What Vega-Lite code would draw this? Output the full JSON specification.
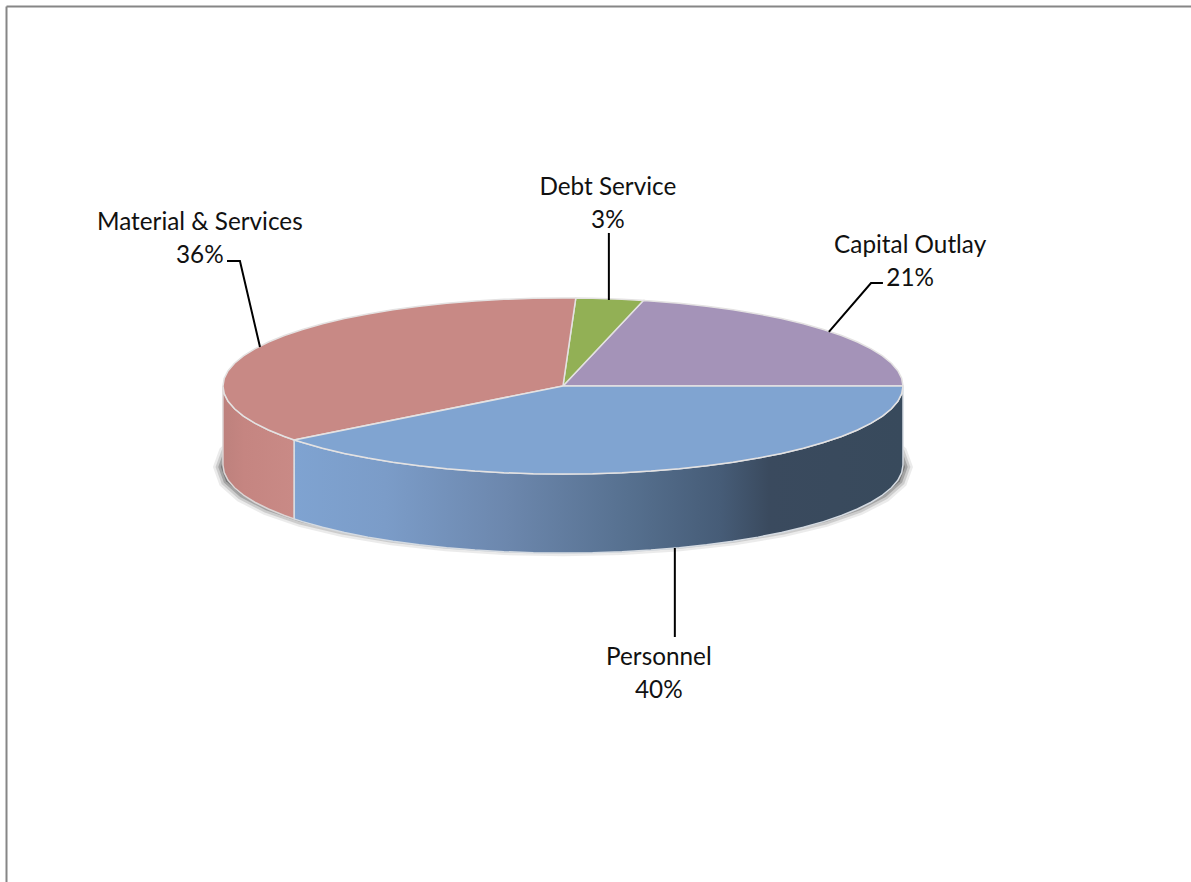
{"$schema":"https://vega.github.io/schema/vega-lite/v6.json","width":1185,"height":876,"autosize":{"type":"none"},"padding":{"left":6,"top":6,"right":0,"bottom":0},"background":"#ffffff","config":{"view":{"stroke":null}},
"datasets":{
"shares":[{"slice":"Material & Services","share":0.361,"x":-1.068,"y":1.795},{"slice":"Debt Service","share":0.032,"x":0.132,"y":2.193},{"slice":"Capital Outlay","share":0.212,"x":1.021,"y":1.534},{"slice":"Personnel","share":0.395,"x":0.282,"y":-3.148}],
"leaders":[{"slice":"Material & Services","x":-0.988,"y":1.42},{"slice":"Material & Services","x":-0.95,"y":1.42},{"slice":"Material & Services","x":-0.891,"y":0.443},{"slice":"Debt Service","x":0.135,"y":1.739},{"slice":"Debt Service","x":0.135,"y":0.977},{"slice":"Capital Outlay","x":0.941,"y":1.17},{"slice":"Capital Outlay","x":0.906,"y":1.17},{"slice":"Capital Outlay","x":0.782,"y":0.614},{"slice":"Personnel","x":0.329,"y":-1.841},{"slice":"Personnel","x":0.329,"y":-2.852}],
"shadow":[{"x":1.006,"y":-0.92},{"x":0.991,"y":-0.759},{"x":0.945,"y":-0.602},{"x":0.871,"y":-0.455},{"x":0.771,"y":-0.322},{"x":0.647,"y":-0.208},{"x":0.503,"y":-0.115},{"x":0.344,"y":-0.046},{"x":0.175,"y":-0.004},{"x":0,"y":0.01},{"x":-0.175,"y":-0.004},{"x":-0.344,"y":-0.046},{"x":-0.503,"y":-0.115},{"x":-0.647,"y":-0.208},{"x":-0.771,"y":-0.322},{"x":-0.871,"y":-0.455},{"x":-0.945,"y":-0.602},{"x":-0.991,"y":-0.759},{"x":-1.006,"y":-0.92},{"x":-0.991,"y":-1.081},{"x":-0.945,"y":-1.238},{"x":-0.871,"y":-1.385},{"x":-0.771,"y":-1.518},{"x":-0.647,"y":-1.632},{"x":-0.503,"y":-1.725},{"x":-0.344,"y":-1.794},{"x":-0.175,"y":-1.836},{"x":0,"y":-1.85},{"x":0.175,"y":-1.836},{"x":0.344,"y":-1.794},{"x":0.503,"y":-1.725},{"x":0.647,"y":-1.632},{"x":0.771,"y":-1.518},{"x":0.871,"y":-1.385},{"x":0.945,"y":-1.238},{"x":0.991,"y":-1.081}],
"materialWall":[{"x":-1,"y":0},{"x":-0.9962,"y":-0.0872},{"x":-0.9848,"y":-0.1736},{"x":-0.9659,"y":-0.2588},{"x":-0.9397,"y":-0.342},{"x":-0.9063,"y":-0.4226},{"x":-0.866,"y":-0.5},{"x":-0.8192,"y":-0.5736},{"x":-0.7902,"y":-0.6129},{"x":-0.7902,"y":-1.5109},{"x":-0.8192,"y":-1.4716},{"x":-0.866,"y":-1.398},{"x":-0.9063,"y":-1.3206},{"x":-0.9397,"y":-1.24},{"x":-0.9659,"y":-1.1568},{"x":-0.9848,"y":-1.0716},{"x":-0.9962,"y":-0.9852},{"x":-1,"y":-0.898}],
"personnelWall":[{"x":-0.7902,"y":-0.6129},{"x":-0.766,"y":-0.6428},{"x":-0.7071,"y":-0.7071},{"x":-0.6428,"y":-0.766},{"x":-0.5736,"y":-0.8192},{"x":-0.5,"y":-0.866},{"x":-0.4226,"y":-0.9063},{"x":-0.342,"y":-0.9397},{"x":-0.2588,"y":-0.9659},{"x":-0.1736,"y":-0.9848},{"x":-0.0872,"y":-0.9962},{"x":0,"y":-1},{"x":0.0872,"y":-0.9962},{"x":0.1736,"y":-0.9848},{"x":0.2588,"y":-0.9659},{"x":0.342,"y":-0.9397},{"x":0.4226,"y":-0.9063},{"x":0.5,"y":-0.866},{"x":0.5736,"y":-0.8192},{"x":0.6428,"y":-0.766},{"x":0.7071,"y":-0.7071},{"x":0.766,"y":-0.6428},{"x":0.8192,"y":-0.5736},{"x":0.866,"y":-0.5},{"x":0.9063,"y":-0.4226},{"x":0.9397,"y":-0.342},{"x":0.9659,"y":-0.2588},{"x":0.9848,"y":-0.1736},{"x":0.9962,"y":-0.0872},{"x":1,"y":0},{"x":1,"y":-0.898},{"x":0.9962,"y":-0.9852},{"x":0.9848,"y":-1.0716},{"x":0.9659,"y":-1.1568},{"x":0.9397,"y":-1.24},{"x":0.9063,"y":-1.3206},{"x":0.866,"y":-1.398},{"x":0.8192,"y":-1.4716},{"x":0.766,"y":-1.5408},{"x":0.7071,"y":-1.6051},{"x":0.6428,"y":-1.664},{"x":0.5736,"y":-1.7172},{"x":0.5,"y":-1.764},{"x":0.4226,"y":-1.8043},{"x":0.342,"y":-1.8377},{"x":0.2588,"y":-1.8639},{"x":0.1736,"y":-1.8828},{"x":0.0872,"y":-1.8942},{"x":0,"y":-1.898},{"x":-0.0872,"y":-1.8942},{"x":-0.1736,"y":-1.8828},{"x":-0.2588,"y":-1.8639},{"x":-0.342,"y":-1.8377},{"x":-0.4226,"y":-1.8043},{"x":-0.5,"y":-1.764},{"x":-0.5736,"y":-1.7172},{"x":-0.6428,"y":-1.664},{"x":-0.7071,"y":-1.6051},{"x":-0.766,"y":-1.5408},{"x":-0.7902,"y":-1.5109}],
"faces":[
{"slice":"Capital Outlay","x":0,"y":0},{"slice":"Capital Outlay","x":1,"y":0},{"slice":"Capital Outlay","x":0.9962,"y":0.0872},{"slice":"Capital Outlay","x":0.9848,"y":0.1736},{"slice":"Capital Outlay","x":0.9659,"y":0.2588},{"slice":"Capital Outlay","x":0.9397,"y":0.342},{"slice":"Capital Outlay","x":0.9063,"y":0.4226},{"slice":"Capital Outlay","x":0.866,"y":0.5},{"slice":"Capital Outlay","x":0.8192,"y":0.5736},{"slice":"Capital Outlay","x":0.766,"y":0.6428},{"slice":"Capital Outlay","x":0.7071,"y":0.7071},{"slice":"Capital Outlay","x":0.6428,"y":0.766},{"slice":"Capital Outlay","x":0.5736,"y":0.8192},{"slice":"Capital Outlay","x":0.5,"y":0.866},{"slice":"Capital Outlay","x":0.4226,"y":0.9063},{"slice":"Capital Outlay","x":0.342,"y":0.9397},{"slice":"Capital Outlay","x":0.2588,"y":0.9659},{"slice":"Capital Outlay","x":0.2365,"y":0.9717},
{"slice":"Debt Service","x":0,"y":0},{"slice":"Debt Service","x":0.2365,"y":0.9717},{"slice":"Debt Service","x":0.1736,"y":0.9848},{"slice":"Debt Service","x":0.0872,"y":0.9962},{"slice":"Debt Service","x":0.0377,"y":0.9993},
{"slice":"Material & Services","x":0,"y":0},{"slice":"Material & Services","x":0.0377,"y":0.9993},{"slice":"Material & Services","x":0,"y":1},{"slice":"Material & Services","x":-0.0872,"y":0.9962},{"slice":"Material & Services","x":-0.1736,"y":0.9848},{"slice":"Material & Services","x":-0.2588,"y":0.9659},{"slice":"Material & Services","x":-0.342,"y":0.9397},{"slice":"Material & Services","x":-0.4226,"y":0.9063},{"slice":"Material & Services","x":-0.5,"y":0.866},{"slice":"Material & Services","x":-0.5736,"y":0.8192},{"slice":"Material & Services","x":-0.6428,"y":0.766},{"slice":"Material & Services","x":-0.7071,"y":0.7071},{"slice":"Material & Services","x":-0.766,"y":0.6428},{"slice":"Material & Services","x":-0.8192,"y":0.5736},{"slice":"Material & Services","x":-0.866,"y":0.5},{"slice":"Material & Services","x":-0.9063,"y":0.4226},{"slice":"Material & Services","x":-0.9397,"y":0.342},{"slice":"Material & Services","x":-0.9659,"y":0.2588},{"slice":"Material & Services","x":-0.9848,"y":0.1736},{"slice":"Material & Services","x":-0.9962,"y":0.0872},{"slice":"Material & Services","x":-1,"y":0},{"slice":"Material & Services","x":-0.9962,"y":-0.0872},{"slice":"Material & Services","x":-0.9848,"y":-0.1736},{"slice":"Material & Services","x":-0.9659,"y":-0.2588},{"slice":"Material & Services","x":-0.9397,"y":-0.342},{"slice":"Material & Services","x":-0.9063,"y":-0.4226},{"slice":"Material & Services","x":-0.866,"y":-0.5},{"slice":"Material & Services","x":-0.8192,"y":-0.5736},{"slice":"Material & Services","x":-0.7902,"y":-0.6129},
{"slice":"Personnel","x":0,"y":0},{"slice":"Personnel","x":-0.7902,"y":-0.6129},{"slice":"Personnel","x":-0.766,"y":-0.6428},{"slice":"Personnel","x":-0.7071,"y":-0.7071},{"slice":"Personnel","x":-0.6428,"y":-0.766},{"slice":"Personnel","x":-0.5736,"y":-0.8192},{"slice":"Personnel","x":-0.5,"y":-0.866},{"slice":"Personnel","x":-0.4226,"y":-0.9063},{"slice":"Personnel","x":-0.342,"y":-0.9397},{"slice":"Personnel","x":-0.2588,"y":-0.9659},{"slice":"Personnel","x":-0.1736,"y":-0.9848},{"slice":"Personnel","x":-0.0872,"y":-0.9962},{"slice":"Personnel","x":0,"y":-1},{"slice":"Personnel","x":0.0872,"y":-0.9962},{"slice":"Personnel","x":0.1736,"y":-0.9848},{"slice":"Personnel","x":0.2588,"y":-0.9659},{"slice":"Personnel","x":0.342,"y":-0.9397},{"slice":"Personnel","x":0.4226,"y":-0.9063},{"slice":"Personnel","x":0.5,"y":-0.866},{"slice":"Personnel","x":0.5736,"y":-0.8192},{"slice":"Personnel","x":0.6428,"y":-0.766},{"slice":"Personnel","x":0.7071,"y":-0.7071},{"slice":"Personnel","x":0.766,"y":-0.6428},{"slice":"Personnel","x":0.8192,"y":-0.5736},{"slice":"Personnel","x":0.866,"y":-0.5},{"slice":"Personnel","x":0.9063,"y":-0.4226},{"slice":"Personnel","x":0.9397,"y":-0.342},{"slice":"Personnel","x":0.9659,"y":-0.2588},{"slice":"Personnel","x":0.9848,"y":-0.1736},{"slice":"Personnel","x":0.9962,"y":-0.0872},{"slice":"Personnel","x":1,"y":0}
]},
"encoding":{
"x":{"field":"x","type":"quantitative","scale":{"domain":[-1.638,1.847],"nice":false,"zero":false},"axis":{"orient":"top","title":null,"labels":false,"ticks":false,"grid":false,"domain":true,"domainColor":"#868686","domainWidth":2}},
"y":{"field":"y","type":"quantitative","scale":{"domain":[-5.636,4.318],"nice":false,"zero":false},"axis":{"orient":"left","title":null,"labels":false,"ticks":false,"grid":false,"domain":true,"domainColor":"#868686","domainWidth":2}}
},
"layer":[
{"data":{"name":"shadow"},"transform":[{"window":[{"op":"row_number","as":"seq"}]}],"mark":{"type":"line","interpolate":"linear-closed","stroke":"#707070","strokeWidth":15,"strokeOpacity":0.14,"fill":"#ffffff","fillOpacity":0},"encoding":{"order":{"field":"seq","type":"quantitative"}}},
{"data":{"name":"shadow"},"transform":[{"window":[{"op":"row_number","as":"seq"}]}],"mark":{"type":"line","interpolate":"linear-closed","stroke":"#707070","strokeWidth":10,"strokeOpacity":0.25,"fill":"#ffffff","fillOpacity":0},"encoding":{"order":{"field":"seq","type":"quantitative"}}},
{"data":{"name":"shadow"},"transform":[{"window":[{"op":"row_number","as":"seq"}]}],"mark":{"type":"line","interpolate":"linear-closed","stroke":"#707070","strokeWidth":5,"strokeOpacity":0.45,"fill":"#808080"},"encoding":{"order":{"field":"seq","type":"quantitative"}}},
{"data":{"name":"materialWall"},"transform":[{"window":[{"op":"row_number","as":"seq"}]}],"mark":{"type":"line","interpolate":"linear-closed","stroke":"#dcd6d6","strokeWidth":1.5,"fill":{"gradient":"linear","x1":0,"y1":0,"x2":1,"y2":0,"stops":[{"offset":0,"color":"#bd817d"},{"offset":0.3,"color":"#c58581"},{"offset":1,"color":"#c98a86"}]}},"encoding":{"order":{"field":"seq","type":"quantitative"}}},
{"data":{"name":"personnelWall"},"transform":[{"window":[{"op":"row_number","as":"seq"}]}],"mark":{"type":"line","interpolate":"linear-closed","stroke":"#d5dbe2","strokeWidth":1.5,"fill":{"gradient":"linear","x1":0,"y1":0,"x2":1,"y2":0,"stops":[{"offset":0,"color":"#7fa3d1"},{"offset":0.15,"color":"#7b9cc8"},{"offset":0.35,"color":"#6c87ad"},{"offset":0.55,"color":"#56708f"},{"offset":0.7,"color":"#465c77"},{"offset":0.78,"color":"#3a4a5e"},{"offset":1,"color":"#384a5c"}]}},"encoding":{"order":{"field":"seq","type":"quantitative"}}},
{"data":{"name":"faces"},"transform":[{"window":[{"op":"row_number","as":"seq"}]}],"mark":{"type":"line","interpolate":"linear-closed","stroke":"#e4e2e2","strokeWidth":1.5},"encoding":{"order":{"field":"seq","type":"quantitative"},"fill":{"field":"slice","type":"nominal","legend":null,"scale":{"domain":["Capital Outlay","Debt Service","Material & Services","Personnel"],"range":["#a493b8","#92b055","#c88985","#80a4d1"]}}}},
{"data":{"name":"leaders"},"transform":[{"window":[{"op":"row_number","as":"seq"}]}],"mark":{"type":"line","color":"#000000","strokeWidth":2},"encoding":{"order":{"field":"seq","type":"quantitative"},"detail":{"field":"slice"}}},
{"data":{"name":"shares"},"mark":{"type":"text","font":"Lato","fontSize":24.3,"color":"#111111","align":"center","baseline":"alphabetic","dy":2},"encoding":{"text":{"field":"slice"}}},
{"data":{"name":"shares"},"mark":{"type":"text","font":"Lato","fontSize":24.3,"color":"#111111","align":"center","baseline":"alphabetic","dy":35},"encoding":{"text":{"field":"share","type":"quantitative","format":".0%"}}}
]}
